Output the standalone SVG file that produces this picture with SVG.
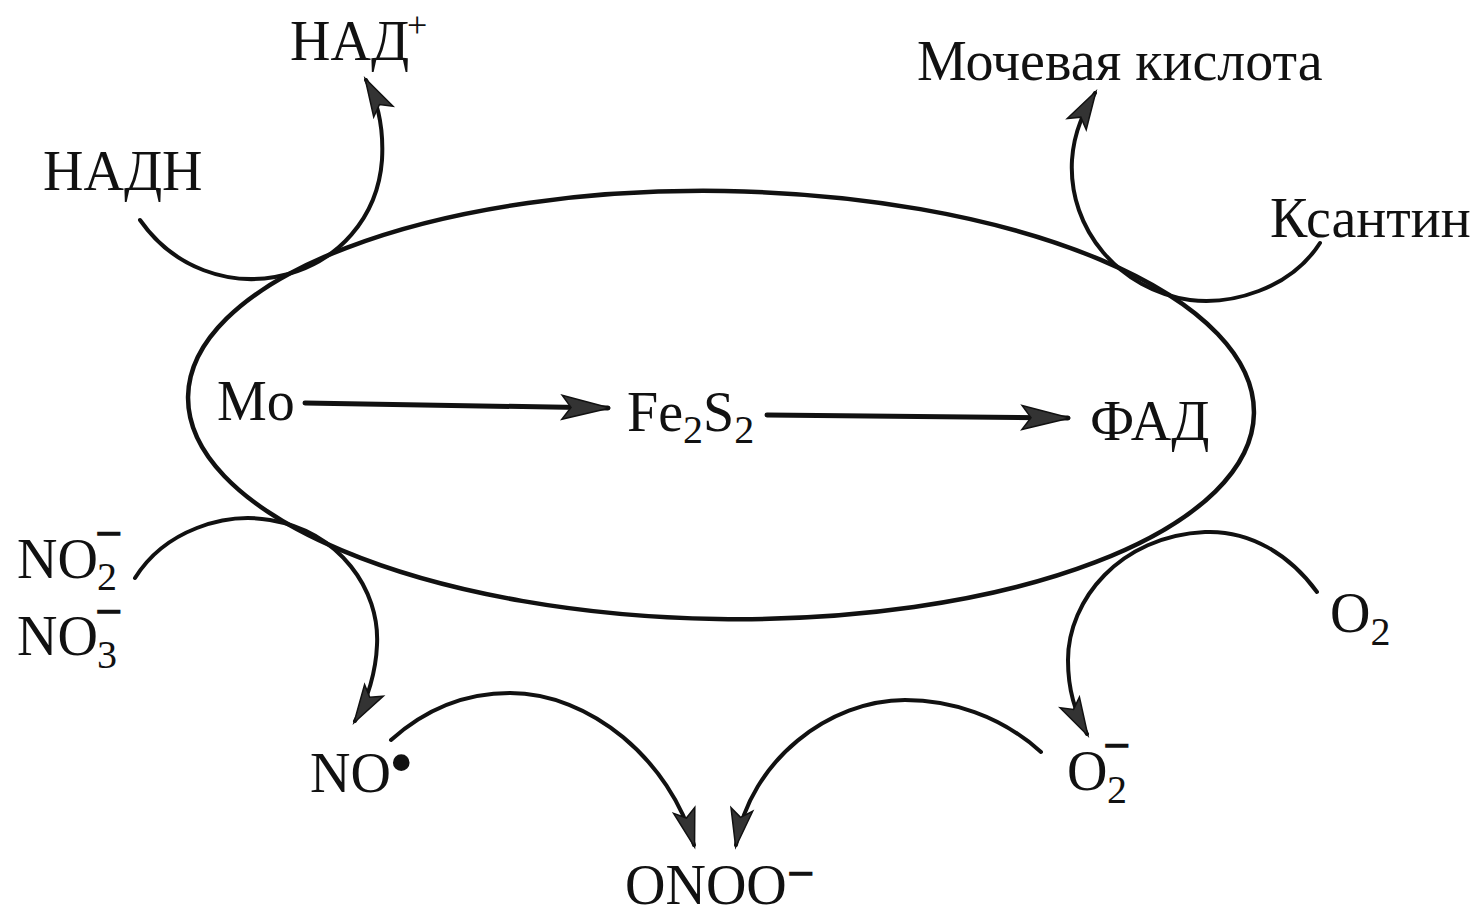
<svg xmlns="http://www.w3.org/2000/svg" width="1480" height="914" viewBox="0 0 1480 914">
  <style>
    .t { font-family: "Liberation Serif", "Times New Roman", serif; font-size: 56px; fill: #111; }
    .sub { font-size: 40px; }
    .chg { font-size: 46px; stroke: #111; stroke-width: 1.8; }
    .sup { font-size: 36px; }
    .rad { font-size: 70px; }
    .ln { fill: none; stroke: #111; stroke-width: 4; stroke-linecap: round; }
    .ln5 { stroke-width: 5; }
    .ell { fill: none; stroke: #111; stroke-width: 4.5; }
  </style>
  <defs>
    <marker id="ahBig" markerUnits="userSpaceOnUse" markerWidth="60" markerHeight="40" refX="0" refY="0" orient="auto" overflow="visible">
      <path d="M2,0 L-46,-12 L-37,0 L-46,12 Z" fill="#333" stroke="#111" stroke-width="1.5" stroke-linejoin="miter"/>
    </marker>
    <marker id="ah" markerUnits="userSpaceOnUse" markerWidth="50" markerHeight="30" refX="0" refY="0" orient="auto" overflow="visible">
      <path d="M2,0 L-36,-11 L-28,0 L-36,11 Z" fill="#333" stroke="#111" stroke-width="1.5" stroke-linejoin="miter"/>
    </marker>
  </defs>
  <rect width="1480" height="914" fill="#fff"/>

  <g id="enzyme">
    <ellipse class="ell" cx="721" cy="405" rx="533" ry="214" transform="rotate(0.9 721 405)"/>
  </g>

  <g id="connectors">
    <!-- internal electron transfer -->
    <path class="ln ln5" d="M305,403 L608,408" marker-end="url(#ahBig)"/>
    <path class="ln ln5" d="M767,415 L1068,418" marker-end="url(#ahBig)"/>
    <!-- NADH -> NAD+ -->
    <path class="ln" d="M140,220 C175,270 230,285 275,277 C340,265 378,215 382,160 C384,125 377,100 366,80" marker-end="url(#ah)"/>
    <!-- Xanthine -> Uric acid -->
    <path class="ln" d="M1320,243 C1290,290 1230,305 1190,300 C1120,290 1068,230 1072,160 C1074,130 1085,110 1095,93" marker-end="url(#ah)"/>
    <!-- NO2-/NO3- -> NO -->
    <path class="ln" d="M135,578 C165,530 225,512 270,520 C340,532 380,590 377,645 C376,670 368,700 355,721" marker-end="url(#ah)"/>
    <!-- O2 -> O2- -->
    <path class="ln" d="M1317,592 C1290,555 1250,530 1205,532 C1120,536 1068,600 1068,660 C1068,690 1075,712 1087,734" marker-end="url(#ah)"/>
    <!-- NO -> ONOO- -->
    <path class="ln" d="M391,740 C430,705 470,693 510,693 C590,693 670,760 694,845" marker-end="url(#ah)"/>
    <!-- O2- -> ONOO- -->
    <path class="ln" d="M1041,752 C1000,715 950,700 905,700 C830,700 750,760 736,845" marker-end="url(#ah)"/>
  </g>

  <g id="node-mo"><text class="t" x="217" y="420">Mo</text></g>
  <g id="node-fe2s2"><text class="t" x="627" y="431">Fe<tspan class="sub" y="443">2</tspan><tspan y="431">S</tspan><tspan class="sub" y="443">2</tspan></text></g>
  <g id="node-fad"><text class="t" x="1090" y="440">ФАД</text></g>

  <g id="node-nadh"><text class="t" x="43" y="190">НАДН</text></g>
  <g id="node-nad"><text class="t" x="290" y="60">НАД<tspan class="sup" x="407" y="37">+</tspan></text></g>

  <g id="node-xanthine"><text class="t" x="1270" y="237">Ксантин</text></g>
  <g id="node-uric"><text class="t" x="917" y="80">Мочевая кислота</text></g>

  <g id="node-nitrite">
    <text class="t" x="17" y="578">NO<tspan class="sub" x="97" y="590">2</tspan><tspan class="chg" x="96" y="549">−</tspan></text>
    <text class="t" x="17" y="655">NO<tspan class="sub" x="97" y="668">3</tspan><tspan class="chg" x="96" y="627">−</tspan></text>
  </g>

  <g id="node-no">
    <text class="t" x="310" y="792">NO<tspan class="rad" x="389" y="786">•</tspan></text>
  </g>

  <g id="node-o2"><text class="t" x="1330" y="632">O<tspan class="sub" y="645">2</tspan></text></g>

  <g id="node-superoxide">
    <text class="t" x="1067" y="790">O<tspan class="sub" x="1107" y="803">2</tspan><tspan class="chg" x="1104" y="761">−</tspan></text>
  </g>

  <g id="node-peroxynitrite">
    <text class="t" x="625" y="904">ONOO<tspan class="chg" x="788" y="889">−</tspan></text>
  </g>
</svg>
